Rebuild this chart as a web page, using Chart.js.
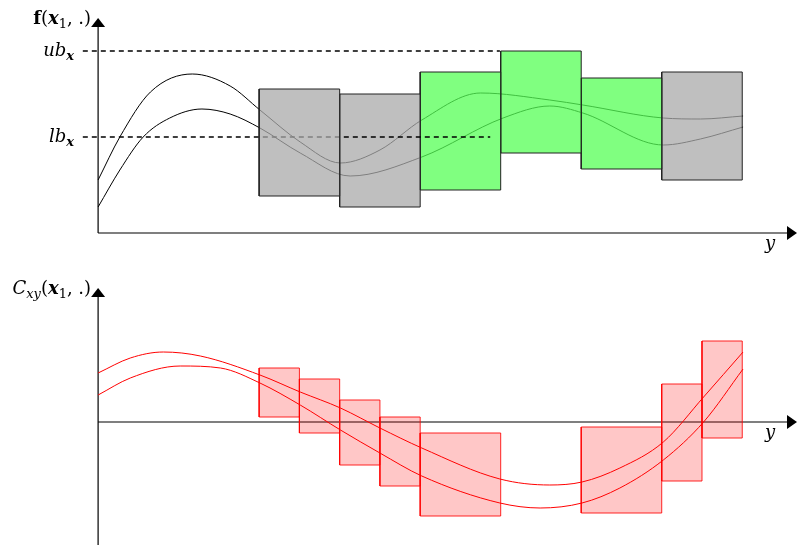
<!DOCTYPE html>
<html>
<head>
<meta charset="utf-8">
<script src="https://cdn.jsdelivr.net/npm/chart.js@4/dist/chart.umd.min.js"></script>
<style>
html, body { margin: 0; padding: 0; background: #fff; }
canvas { display: block; }
</style>
</head>
<body>
<canvas id="topChart" width="797" height="260"></canvas>
<canvas id="bottomChart" width="797" height="285"></canvas>
<script>
// x is measured in cell units, one top box is one unit wide
const axisEnd = 8.68;

// top panel: f(x1, .)
const fUpperX = [0, 0.27, 0.65, 1.17, 1.64, 2.01, 2.51, 3.01, 3.5, 4.02, 4.75, 5.61, 6.02, 7.02, 7.48, 8.01];
const fUpperY = [2.65, 4.8, 7.05, 7.95, 7.35, 6.15, 4.55, 3.5, 4.15, 5.65, 7.0, 6.65, 6.4, 5.75, 5.7, 5.85];
const fLowerX = [0, 0.27, 0.56, 0.89, 1.29, 1.64, 2.01, 2.51, 3.13, 4.02, 5.03, 5.61, 6.02, 7.02, 7.48, 8.01];
const fLowerY = [1.3, 3.15, 4.8, 5.75, 6.2, 5.95, 5.25, 4.0, 2.85, 3.8, 5.75, 6.35, 6.0, 4.4, 4.7, 5.3];
const ubValue = 9.1;
const lbValue = 4.8;
const ubEnd = 4.99;
const lbEnd = 4.87;
const fBoxLeft = [2, 3, 4, 5, 6, 7];
const fBoxRight = [3, 4, 5, 6, 7, 8];
const fBoxLow = [1.85, 1.3, 2.15, 4.0, 3.2, 2.65];
const fBoxHigh = [7.2, 6.95, 8.05, 9.1, 7.75, 8.05];
const fBoxKind = ['gray', 'gray', 'green', 'green', 'green', 'gray'];

// bottom panel: C_xy(x1, .)
const cUpperX = [0, 0.4, 0.81, 1.27, 2.01, 2.51, 3.01, 3.5, 4.02, 4.99, 5.61, 6.01, 6.48, 7.02, 7.52, 8.01];
const cUpperY = [2.45, 3.2, 3.5, 3.3, 2.35, 1.5, 0.7, -0.3, -1.3, -2.85, -3.15, -3.0, -2.3, -1.0, 1.25, 3.5];
const cLowerX = [0, 0.4, 1.02, 1.52, 2.01, 2.51, 3.01, 3.5, 4.02, 4.99, 5.49, 6.01, 6.48, 7.02, 7.52, 8.01];
const cLowerY = [1.35, 2.2, 2.8, 2.7, 1.95, 0.85, -0.4, -1.55, -2.7, -4.05, -4.3, -4.05, -3.3, -1.9, 0, 2.65];
const cBoxLeft = [2, 2.5, 3, 3.5, 4, 6, 7, 7.5];
const cBoxRight = [2.5, 3, 3.5, 4, 5, 7, 7.5, 8];
const cBoxLow = [0.25, -0.55, -2.15, -3.2, -4.7, -4.55, -2.95, -0.8];
const cBoxHigh = [2.7, 2.15, 1.1, 0.25, -0.55, -0.25, 1.9, 4.05];

const serif = '"DejaVu Serif", "Liberation Serif", serif';

function pts(xs, ys) {
    return xs.map((x, i) => ({ x: x, y: ys[i] }));
}

function curve(xs, ys, color, order) {
    return {
        data: pts(xs, ys),
        showLine: true,
        borderColor: color,
        borderWidth: 1,
        pointRadius: 0,
        cubicInterpolationMode: 'monotone',
        fill: false,
        order: order
    };
}

function box(l, r, lo, hi, fillColor, lineColor, order) {
    return {
        data: [{ x: l, y: lo }, { x: r, y: lo }, { x: r, y: hi }, { x: l, y: hi }, { x: l, y: lo }],
        showLine: true,
        tension: 0,
        borderColor: lineColor,
        backgroundColor: fillColor,
        borderWidth: 1,
        pointRadius: 0,
        fill: 'shape',
        order: order
    };
}

function dashed(y, x1, order) {
    return {
        data: [{ x: -0.19, y: y }, { x: x1, y: y }],
        showLine: true,
        borderColor: '#000',
        borderWidth: 1.5,
        borderDash: [5, 4],
        pointRadius: 0,
        fill: false,
        order: order
    };
}

// pieces of math text: [text, font, dy]
function mathText(ctx, x, y, parts, alignRight) {
    let w = 0;
    parts.forEach(p => { ctx.font = p[1]; w += ctx.measureText(p[0]).width; });
    let cx = alignRight ? x - w : x;
    ctx.fillStyle = '#000';
    ctx.textBaseline = 'alphabetic';
    ctx.textAlign = 'left';
    parts.forEach(p => {
        ctx.font = p[1];
        ctx.fillText(p[0], cx, y + (p[2] || 0));
        cx += ctx.measureText(p[0]).width;
    });
}

const reg = '18px ' + serif;
const ita = 'italic 18px ' + serif;
const bold = 'bold 18px ' + serif;
const boldIta = 'italic bold 18px ' + serif;
const subReg = '13px ' + serif;
const subIta = 'italic 13px ' + serif;
const subBoldIta = 'italic bold 13px ' + serif;

function axesPlugin(yLabel, extraLabels) {
    return {
        id: 'arrowAxes',
        beforeDatasetsDraw(chart) {
            const ctx = chart.ctx;
            const xs = chart.scales.x, ys = chart.scales.y;
            const x0 = xs.getPixelForValue(0);
            const y0 = ys.getPixelForValue(0);
            const xEnd = xs.getPixelForValue(axisEnd);
            const yTop = ys.getPixelForValue(ys.max);
            const yBottom = ys.getPixelForValue(ys.min);
            ctx.save();
            ctx.strokeStyle = '#555';
            ctx.lineWidth = 1.4;
            ctx.beginPath();
            ctx.moveTo(x0, y0);
            ctx.lineTo(xEnd - 8, y0);
            ctx.stroke();
            ctx.strokeStyle = '#000';
            ctx.lineWidth = 1.2;
            ctx.beginPath();
            ctx.moveTo(x0, yBottom);
            ctx.lineTo(x0, yTop + 8);
            ctx.stroke();
            ctx.fillStyle = '#000';
            ctx.beginPath();
            ctx.moveTo(xEnd, y0);
            ctx.lineTo(xEnd - 10, y0 - 7);
            ctx.lineTo(xEnd - 10, y0 + 7);
            ctx.closePath();
            ctx.fill();
            ctx.beginPath();
            ctx.moveTo(x0, yTop);
            ctx.lineTo(x0 - 7, yTop + 9);
            ctx.lineTo(x0 + 7, yTop + 9);
            ctx.closePath();
            ctx.fill();
            ctx.restore();
        },
        afterDraw(chart) {
            const ctx = chart.ctx;
            const xs = chart.scales.x, ys = chart.scales.y;
            const x0 = xs.getPixelForValue(0);
            const y0 = ys.getPixelForValue(0);
            const xEnd = xs.getPixelForValue(axisEnd);
            const yTop = ys.getPixelForValue(ys.max);
            ctx.save();
            mathText(ctx, x0 - 7, yTop + 6, yLabel, true);
            mathText(ctx, xEnd - 32, y0 + 16, [['y', ita]], false);
            extraLabels.forEach(l => {
                mathText(ctx, x0 - 24, ys.getPixelForValue(l.v) + 5, l.parts, true);
            });
            ctx.restore();
        }
    };
}

function baseOptions(yMin, yMax, padding) {
    return {
        responsive: false,
        animation: false,
        events: [],
        layout: { padding: padding },
        plugins: { legend: { display: false }, tooltip: { enabled: false } },
        scales: {
            x: { type: 'linear', min: -0.2, max: axisEnd, display: false },
            y: { type: 'linear', min: yMin, max: yMax, display: false }
        }
    };
}

// top chart
const topSets = [];
topSets.push(curve(fUpperX, fUpperY, '#000', 10));
topSets.push(curve(fLowerX, fLowerY, '#000', 10));
fBoxLeft.forEach((l, i) => {
    const fillC = fBoxKind[i] === 'gray' ? 'rgba(170,170,170,0.75)' : 'rgba(85,255,85,0.75)';
    topSets.push(box(l, fBoxRight[i], fBoxLow[i], fBoxHigh[i], fillC, '#222', i === 0 ? 4 : 8));
});
topSets.push(dashed(ubValue, ubEnd, 6));
topSets.push(dashed(lbValue, lbEnd, 6));

new Chart(document.getElementById('topChart').getContext('2d'), {
    type: 'scatter',
    data: { datasets: topSets },
    options: baseOptions(0, 10.75, { left: 82, right: 0, top: 18, bottom: 27 }),
    plugins: [axesPlugin(
        [['f', bold], ['(', reg], ['x', boldIta], ['1', subReg, 4], [', .)', reg]],
        [
            { v: ubValue, parts: [['ub', ita], ['x', subBoldIta, 4]] },
            { v: lbValue, parts: [['lb', ita], ['x', subBoldIta, 4]] }
        ]
    )]
});

// bottom chart
const bottomSets = [];
cBoxLeft.forEach((l, i) => {
    bottomSets.push(box(l, cBoxRight[i], cBoxLow[i], cBoxHigh[i], 'rgba(255,0,0,0.22)', 'rgba(255,0,0,0.85)', 8));
});
bottomSets.push(curve(cUpperX, cUpperY, '#ff0000', 2));
bottomSets.push(curve(cLowerX, cLowerY, '#ff0000', 2));

new Chart(document.getElementById('bottomChart').getContext('2d'), {
    type: 'scatter',
    data: { datasets: bottomSets },
    options: baseOptions(-6.15, 6.7, { left: 82, right: 0, top: 28, bottom: 0 }),
    plugins: [axesPlugin(
        [['C', ita], ['xy', subIta, 4], ['(', reg], ['x', boldIta], ['1', subReg, 4], [', .)', reg]],
        []
    )]
});
</script>
</body>
</html>
